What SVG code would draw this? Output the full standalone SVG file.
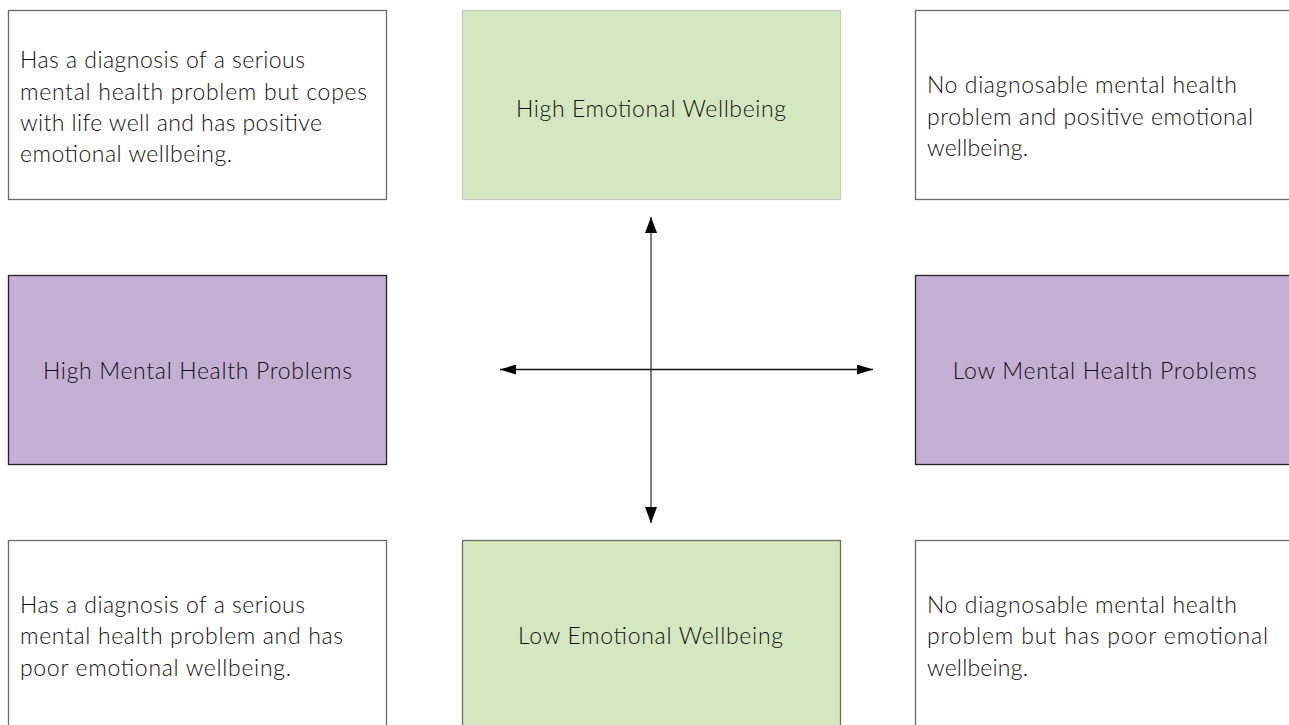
<svg xmlns="http://www.w3.org/2000/svg" width="1289" height="725" viewBox="0 0 1289 725">
<style>
.txt{font-family:Lato,"Open Sans","Liberation Sans",sans-serif;font-weight:300;font-size:23px;fill:#111}
.mid{text-anchor:middle}
.white{fill:#fff;stroke:#6b6b6b;stroke-width:1.3}
.green{fill:#d4e7c1}
.purple{fill:#c4afd5;stroke:#222;stroke-width:1.3}
</style>
<defs>
<marker id="ahv" viewBox="0 0 10 10" refX="10" refY="5" markerWidth="16" markerHeight="12" markerUnits="userSpaceOnUse" orient="auto-start-reverse" preserveAspectRatio="none">
<path d="M0,0 L10,5 L0,10 z" fill="#000"/>
</marker>
<marker id="ahh" viewBox="0 0 10 10" refX="10" refY="5" markerWidth="16" markerHeight="10" markerUnits="userSpaceOnUse" orient="auto-start-reverse" preserveAspectRatio="none">
<path d="M0,0 L10,5 L0,10 z" fill="#000"/>
</marker>
</defs>
<rect width="1289" height="725" fill="#fff"/>

<g id="node-top-left">
<rect class="white" x="8.5" y="10.5" width="378" height="189"/>
<text class="txt" x="20" y="68" textLength="285">Has a diagnosis of a serious</text>
<text class="txt" x="20" y="100" textLength="347">mental health problem but copes</text>
<text class="txt" x="20" y="131" textLength="302">with life well and has positive</text>
<text class="txt" x="20" y="162" textLength="212">emotional wellbeing.</text>
</g>

<g id="node-high-ewb">
<rect class="green" x="462.5" y="10.5" width="378" height="189" stroke="#c8c8c8" stroke-width="1.3"/>
<text class="txt mid" x="651" y="117" textLength="270">High Emotional Wellbeing</text>
</g>

<g id="node-top-right">
<rect class="white" x="915.5" y="10.5" width="378" height="189"/>
<text class="txt" x="927" y="93" textLength="310">No diagnosable mental health</text>
<text class="txt" x="927" y="124.5" textLength="326">problem and positive emotional</text>
<text class="txt" x="927" y="156" textLength="101">wellbeing.</text>
</g>

<g id="node-high-mhp">
<rect class="purple" x="8.5" y="275.5" width="378" height="189"/>
<text class="txt mid" x="197.5" y="379" textLength="309">High Mental Health Problems</text>
</g>

<g id="node-low-mhp">
<rect class="purple" x="915.5" y="275.5" width="378" height="189"/>
<text class="txt mid" x="1104.7" y="378.5" textLength="304">Low Mental Health Problems</text>
</g>

<g id="node-bottom-left">
<rect class="white" x="8.5" y="540.5" width="378" height="189"/>
<text class="txt" x="20" y="613" textLength="285">Has a diagnosis of a serious</text>
<text class="txt" x="20" y="644" textLength="323">mental health problem and has</text>
<text class="txt" x="20" y="676" textLength="271">poor emotional wellbeing.</text>
</g>

<g id="node-low-ewb">
<rect class="green" x="462.5" y="540.5" width="378" height="189" stroke="#6b6b6b" stroke-width="1.3"/>
<text class="txt mid" x="650.5" y="644" textLength="265">Low Emotional Wellbeing</text>
</g>

<g id="node-bottom-right">
<rect class="white" x="915.5" y="540.5" width="378" height="189"/>
<text class="txt" x="927" y="613" textLength="310">No diagnosable mental health</text>
<text class="txt" x="927" y="644" textLength="341">problem but has poor emotional</text>
<text class="txt" x="927" y="676" textLength="101">wellbeing.</text>
</g>

<g id="connectors">
<line x1="651" y1="523" x2="651" y2="217" stroke="#7a7a7a" stroke-width="2" marker-start="url(#ahv)" marker-end="url(#ahv)"/>
<line x1="500" y1="369.5" x2="873" y2="369.5" stroke="#111" stroke-width="1.3" marker-start="url(#ahh)" marker-end="url(#ahh)"/>
</g>
</svg>
